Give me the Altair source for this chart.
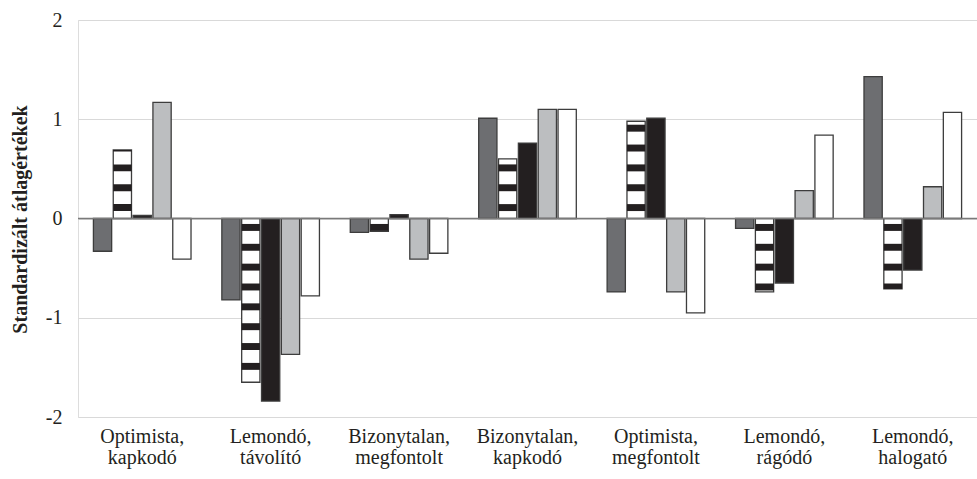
import altair as alt
import pandas as pd

categories = ["Optimista, kapkodó", "Lemondó, távolító", "Bizonytalan, megfontolt",
              "Bizonytalan, kapkodó", "Optimista, megfontolt", "Lemondó, rágódó", "Lemondó, halogató"]
series = ["1", "2", "3", "4", "5"]
s1 = [-0.33, -0.82, -0.14, 1.01, -0.74, -0.10, 1.43]
s2 = [0.69, -1.65, -0.13, 0.60, 0.98, -0.74, -0.71]
s3 = [0.03, -1.84, 0.04, 0.76, 1.01, -0.65, -0.52]
s4 = [1.17, -1.37, -0.41, 1.10, -0.74, 0.28, 0.32]
s5 = [-0.41, -0.78, -0.35, 1.10, -0.95, 0.84, 1.07]
fills = ["#6d6e71", "#ffffff", "#231f20", "#bcbec0", "#ffffff"]
striped_series = "2"

rows = []
for name, vals in zip(series, [s1, s2, s3, s4, s5]):
    for c, v in zip(categories, vals):
        rows.append({"cat": c, "series": name, "value": v})
df = pd.DataFrame(rows)

# horizontal stripe pattern for the striped series (clipped to each bar)
stripe_rows = []
for c, v in zip(categories, s2):
    lo, hi = min(0.0, v), max(0.0, v)
    for k in range(-15, 16):
        center = 0.11 + 0.2 * k
        a, b = max(center - 0.035, lo), min(center + 0.035, hi)
        if b > a:
            stripe_rows.append({"cat": c, "series": striped_series, "y0": a, "y1": b})
stripes = pd.DataFrame(stripe_rows)
zero = pd.DataFrame({"z": [0]})

serif = "Liberation Serif"

x_enc = alt.X("cat:N", sort=categories,
              scale=alt.Scale(paddingInner=0.24, paddingOuter=0.12),
              axis=alt.Axis(title=None, domain=False, ticks=False, labelAngle=0,
                            labelFont=serif, labelFontSize=20, labelColor="#231f20",
                            labelPadding=9, labelLineHeight=21,
                            labelExpr="split(datum.label, ' ')"))
xo_enc = alt.XOffset("series:N", scale=alt.Scale(domain=series, paddingInner=0.08, paddingOuter=0))
y_scale = alt.Scale(domain=[-2, 2], nice=False)

bars = alt.Chart(df).mark_bar(stroke="#3d3d3d", strokeWidth=1.3).encode(
    x=x_enc,
    xOffset=xo_enc,
    y=alt.Y("value:Q", scale=y_scale,
            axis=alt.Axis(values=[-2, -1, 0, 1, 2], domain=False, ticks=False,
                          grid=True, gridColor="#d9d9d9", gridWidth=1,
                          labelFont=serif, labelFontSize=20, labelColor="#231f20",
                          labelPadding=16, labelExpr="datum.value + ''",
                          title="Standardizált átlagértékek", titleFont=serif,
                          titleFontSize=20, titleFontWeight="bold", titleColor="#231f20",
                          titleAngle=270, titleX=-58, titleY=199, titleAlign="center",
                          titleBaseline="middle")),
    y2=alt.datum(0),
    fill=alt.Fill("series:N", scale=alt.Scale(domain=series, range=fills), legend=None),
)

stripe_layer = alt.Chart(stripes).mark_bar(fill="#231f20", stroke=None).encode(
    x=alt.X("cat:N", sort=categories),
    xOffset=alt.XOffset("series:N"),
    y=alt.Y("y0:Q", scale=y_scale),
    y2="y1:Q",
)

zero_line = alt.Chart(zero).mark_rule(color="#7a7a7a", strokeWidth=1.5).encode(
    y=alt.Y("z:Q", scale=y_scale)
)

chart = alt.layer(bars, stripe_layer, zero_line).properties(
    width=899, height=397,
    padding={"left": 78, "top": 20, "right": 0, "bottom": 62},
    autosize=alt.AutoSizeParams(type="none"),
).configure_view(stroke=None).configure(background="white")

chart.save("out.html", embed_options={"renderer": "svg", "actions": False})
